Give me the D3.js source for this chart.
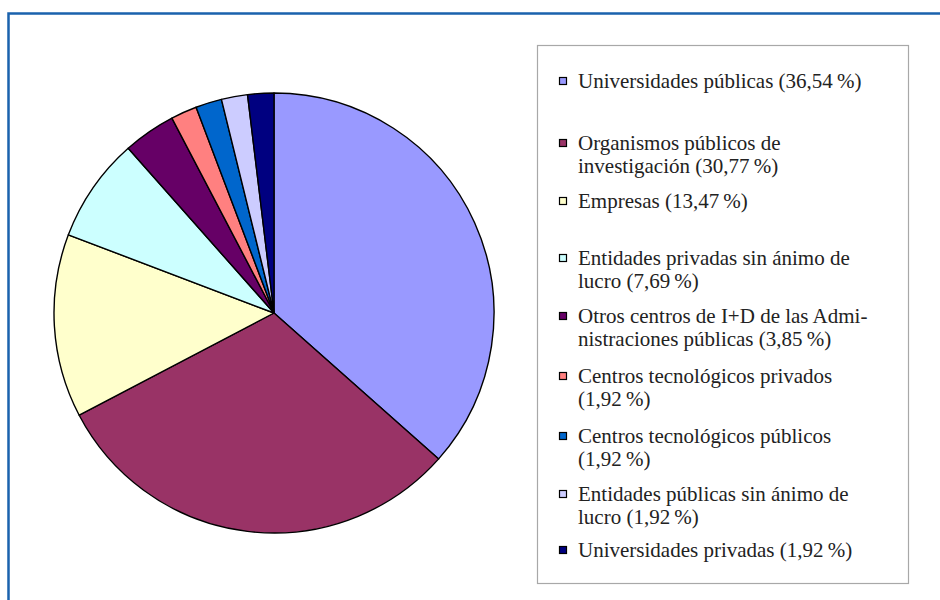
<!DOCTYPE html>
<html>
<head>
<meta charset="utf-8">
<script src="https://cdn.jsdelivr.net/npm/d3@7"></script>
<style>
  body { margin: 0; background: #fff; }
  svg { display: block; }
</style>
</head>
<body>
<script>
// sectors, clockwise from 12 o'clock (same order as the legend)
const sectors = [
  'Universidades públicas',
  'Organismos públicos de\ninvestigación',
  'Empresas',
  'Entidades privadas sin ánimo de\nlucro',
  'Otros centros de I+D de las Admi-\nnistraciones públicas',
  'Centros tecnológicos privados\n',
  'Centros tecnológicos públicos\n',
  'Entidades públicas sin ánimo de\nlucro',
  'Universidades privadas'
];
const shares = [36.54, 30.77, 13.47, 7.69, 3.85, 1.92, 1.92, 1.92, 1.92];
const colours = ['#9999ff', '#993366', '#ffffcc', '#ccffff', '#660066',
                 '#ff8080', '#0066cc', '#ccccff', '#000080'];

const W = 940, H = 600;
const pieC = {x: 274, y: 313}, R = 220;

function drawChart() {
  const svg = d3.select('body').append('svg')
    .attr('width', W)
    .attr('height', H);

  // blue frame (only top and left edges fall inside the picture)
  svg.append('rect')
    .attr('x', 8.5).attr('y', 13.5)
    .attr('width', W + 20).attr('height', H + 20)
    .attr('fill', 'none')
    .attr('stroke', '#1a62ad')
    .attr('stroke-width', 2.5);

  const pie = d3.pie().sort(null).value(d => d);
  const arc = d3.arc().innerRadius(0).outerRadius(R);

  svg.append('g')
    .attr('transform', `translate(${pieC.x},${pieC.y})`)
    .selectAll('path')
    .data(pie(shares))
    .join('path')
    .attr('d', arc)
    .attr('fill', (d, i) => colours[i])
    .attr('stroke', '#000')
    .attr('stroke-width', 1.4)
    .attr('stroke-linejoin', 'round');

  // legend box
  svg.append('rect')
    .attr('x', 537.5).attr('y', 45.5)
    .attr('width', 371).attr('height', 538)
    .attr('fill', '#fff')
    .attr('stroke', '#a8a8a8')
    .attr('stroke-width', 1.2);

  const fmt = v => d3.format('.2f')(v).replace('.', ',');
  const baselines = [88, 150, 208, 265, 323, 383, 443, 501, 557];
  const lineH = 22.5;

  const items = svg.append('g').selectAll('g')
    .data(sectors)
    .join('g')
    .attr('transform', (d, i) => `translate(0,${baselines[i]})`);

  items.append('rect')
    .attr('x', 559.5).attr('y', -10.5)
    .attr('width', 7).attr('height', 7)
    .attr('fill', (d, i) => colours[i])
    .attr('stroke', '#000')
    .attr('stroke-width', 1.2);

  items.append('text')
    .attr('font-family', '"Liberation Serif", "DejaVu Serif", serif')
    .attr('font-size', 21)
    .attr('fill', '#222')
    .each(function(d, i) {
      const full = d + (d.endsWith('\n') ? '' : ' ') + '(' + fmt(shares[i]) + '\u2009%)';
      d3.select(this).selectAll('tspan')
        .data(full.split('\n'))
        .join('tspan')
        .attr('x', 578)
        .attr('y', (t, j) => j * lineH)
        .text(t => t);
    });
}

drawChart();
</script>
</body>
</html>
